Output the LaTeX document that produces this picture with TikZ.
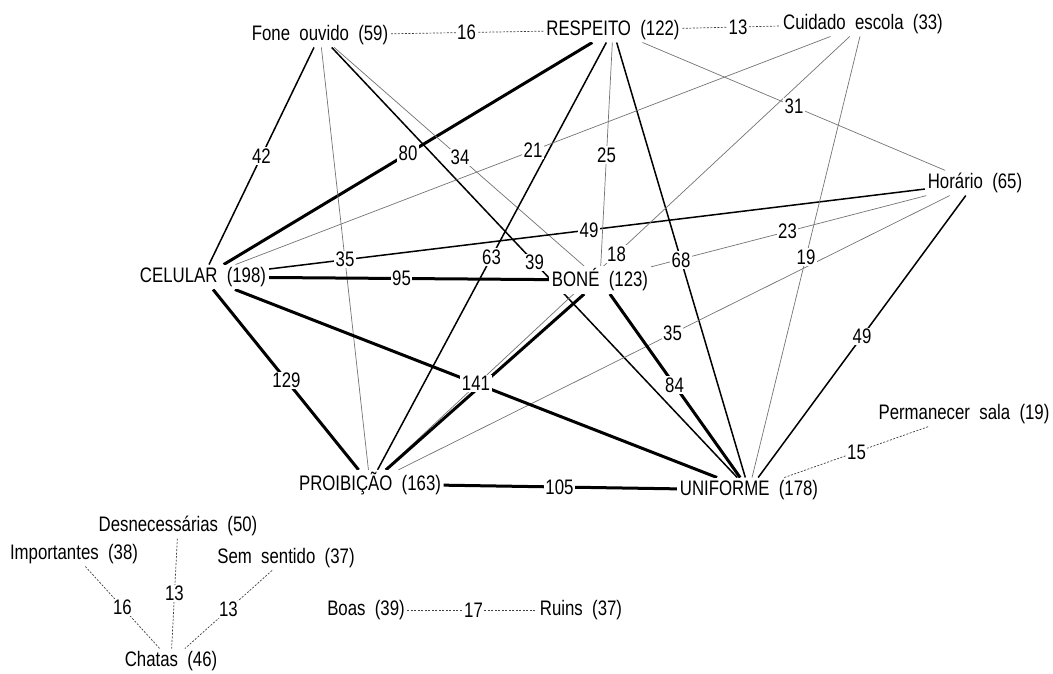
\documentclass[tikz,border=0pt]{standalone}
\usepackage{fontspec}
\setmainfont{Liberation Sans}[FakeStretch=0.8,WordSpace=2]
\usetikzlibrary{calc}
\pgfdeclarelayer{bg}
\pgfsetlayers{bg,main}
\begin{document}
\begin{tikzpicture}[x=1pt,y=-1pt,
  txt/.style={font=\fontsize{21}{24}\selectfont},
  nd/.style={txt,fill=white,inner sep=2.5pt},
  lbl/.style={txt,fill=white,inner sep=1.5pt},
  thn/.style={draw=black!55,line width=0.7pt},
  med/.style={draw=black,line width=1.5pt},
  thk/.style={draw=black,line width=3pt},
  dsh/.style={draw=black!75,line width=0.7pt,dash pattern=on 2pt off 1.5pt}]
\useasboundingbox (0,0) rectangle (1053,674);
% nodes
\node[nd] (fone)  at (320,35)  {Fone ouvido (59)};
\node[nd] (resp)  at (613,30)  {RESPEITO (122)};
\node[nd] (cuid)  at (863,24)  {Cuidado escola (33)};
\node[nd] (hor)   at (975,183) {Horário (65)};
\node[nd] (cel)   at (203,277) {CELULAR (198)};
\node[nd] (bone)  at (600,280) {BONÉ (123)};
\node[nd] (perm)  at (964,414) {Permanecer sala (19)};
\node[nd] (proib) at (370,484) {PROIBIÇÃO (163)};
\node[nd] (unif)  at (749,490) {UNIFORME (178)};
\node[nd] (desn)  at (178,526) {Desnecessárias (50)};
\node[nd] (imp)   at (74,554)  {Importantes (38)};
\node[nd] (sem)   at (286,558) {Sem sentido (37)};
\node[nd] (chat)  at (171,661) {Chatas (46)};
\node[nd] (boas)  at (366,610) {Boas (39)};
\node[nd] (ruins) at (581,610) {Ruins (37)};
% edges
\begin{pgfonlayer}{bg}
\foreach \a/\b/\s in {fone/resp/dsh, resp/cuid/dsh, fone/cel/med, resp/cel/thk,
  fone/bone/thn, fone/unif/med, fone/proib/thn, cel/hor/med, resp/proib/med,
  resp/bone/thn, resp/unif/med, resp/hor/thn, cuid/cel/thn, cuid/proib/thn,
  cuid/unif/thn, hor/bone/thn, hor/proib/thn, hor/unif/med, cel/bone/thk,
  cel/unif/thk, bone/proib/thk, cel/proib/thk, bone/unif/thk, proib/unif/thk,
  unif/perm/dsh, imp/chat/dsh, desn/chat/dsh, sem/chat/dsh, boas/ruins/dsh}
  {\draw[\s] (\a) -- (\b);}
\end{pgfonlayer}
% labels
\foreach \a/\b/\w in {fone/resp/16, resp/cuid/13, fone/cel/42, resp/cel/80,
  fone/bone/34, fone/unif/39, fone/proib/35, cel/hor/49, resp/proib/63,
  resp/bone/25, resp/unif/68, resp/hor/31, cuid/cel/21, cuid/proib/18,
  cuid/unif/19, hor/bone/23, hor/proib/35, hor/unif/49, cel/bone/95,
  cel/unif/141, cel/proib/129, bone/unif/84, proib/unif/105,
  unif/perm/15, imp/chat/16, desn/chat/13, sem/chat/13, boas/ruins/17}
  {\node[lbl] at ($(\a)!0.5!(\b)$) {\w};}
\end{tikzpicture}
\end{document}
